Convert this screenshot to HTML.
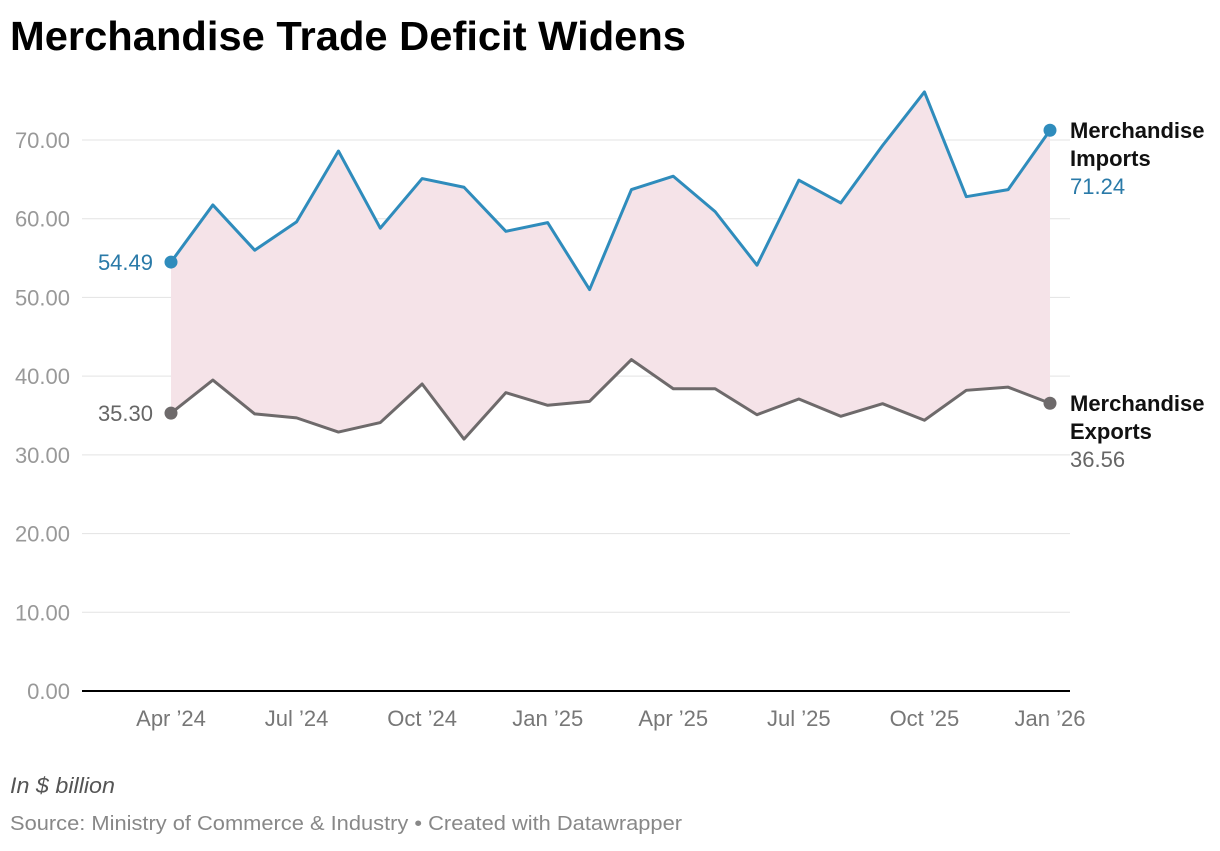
<!DOCTYPE html>
<html><head><meta charset="utf-8"><style>
body{margin:0;background:#fff;width:1220px;height:846px;overflow:hidden;font-family:"Liberation Sans",sans-serif}
</style></head><body>
<svg width="1220" height="846" font-family="Liberation Sans, sans-serif">
<text x="10" y="50" font-size="41" font-weight="bold" fill="#000" textLength="676" lengthAdjust="spacingAndGlyphs">Merchandise Trade Deficit Widens</text>
<g id="grid"></g><g id="area"></g><g id="lines"></g><g id="labels"></g>
<text x="10" y="793" font-size="22" font-style="italic" fill="#555" textLength="105" lengthAdjust="spacingAndGlyphs">In $ billion</text>
<text x="10" y="830" font-size="20" fill="#888" textLength="672" lengthAdjust="spacingAndGlyphs">Source: Ministry of Commerce &amp; Industry • Created with Datawrapper</text>
</svg>
<script>
const months=["Apr '24","May","Jun","Jul '24","Aug","Sep","Oct '24","Nov","Dec","Jan '25","Feb","Mar","Apr '25","May","Jun","Jul '25","Aug","Sep","Oct '25","Nov","Dec","Jan '26"];
const imports=[54.49,61.75,56.0,59.6,68.6,58.8,65.1,64.0,58.4,59.5,51.0,63.7,65.4,60.9,54.1,64.9,62.0,69.3,76.1,62.8,63.7,71.24];
const exportsV=[35.30,39.5,35.2,34.7,32.9,34.1,39.0,32.0,37.9,36.3,36.8,42.1,38.4,38.4,35.1,37.1,34.9,36.5,34.4,38.2,38.6,36.56];
const yTicks=[0,10,20,30,40,50,60,70];
const xTickIdx=[0,3,6,9,12,15,18,21];
const NS="http://www.w3.org/2000/svg";
const X=i=>171+i*(1050-171)/21, Y=v=>691-v*(691-140)/70;
function mk(t,a,p,txt){const e=document.createElementNS(NS,t);for(const k in a)e.setAttribute(k,a[k]);if(txt!=null)e.textContent=txt;p.appendChild(e);return e;}
const g=document.getElementById('grid');
yTicks.forEach(v=>{
 const l=mk('line',{x1:82,x2:1070,y1:Y(v),y2:Y(v),stroke:v===0?'#000':'#e3e3e3','stroke-width':v===0?2:1},g);
 
 
 const t=mk('text',{x:70,y:Y(v)+8,'text-anchor':'end','font-size':22,fill:'#999'},g,v.toFixed(2));
 
 
});
xTickIdx.forEach(i=>{
 const t=mk('text',{x:X(i),y:726,'text-anchor':'middle','font-size':22,fill:'#777'},g,months[i].replace("'","’"));
 
 
});
const a=document.getElementById('area');
let d='M'+imports.map((v,i)=>X(i)+','+Y(v)).join('L');
for(let i=exportsV.length-1;i>=0;i--)d+='L'+X(i)+','+Y(exportsV[i]);
const ar=mk('path',{d:d+'Z',fill:'#f5e3e8'},a);


const L=document.getElementById('lines');
[[imports,'#2f8cbc','imports'],[exportsV,'#6e6a6b','exports']].forEach(([s,c,n])=>{
 const p=mk('path',{d:'M'+s.map((v,i)=>X(i)+','+Y(v)).join('L'),fill:'none',stroke:c,'stroke-width':3,'stroke-linejoin':'round'},L);
 
 
 [0,s.length-1].forEach(i=>{
  const cc=mk('circle',{cx:X(i),cy:Y(s[i]),r:6.5,fill:c},L);
  
  
 });
});
const lb=document.getElementById('labels');
function lab(x,y,txt,fill,w,anchor,name){const t=mk('text',{x:x,y:y,'font-size':22,fill:fill,'font-weight':w,'text-anchor':anchor||'start'},lb,txt);}
lab(153,Y(imports[0])+8,imports[0].toFixed(2),'#2a7aa8','normal','end','imports-start-value');
lab(153,Y(exportsV[0])+8,exportsV[0].toFixed(2),'#666','normal','end','exports-start-value');
const ie=Y(imports[21]), ee=Y(exportsV[21]);
lab(1070,ie+8,'Merchandise','#111','bold','start','imports-label');
lab(1070,ie+36,'Imports','#111','bold','start','imports-label-2');
lab(1070,ie+64,imports[21].toFixed(2),'#2a7aa8','normal','start','imports-end-value');
lab(1070,ee+8,'Merchandise','#111','bold','start','exports-label');
lab(1070,ee+36,'Exports','#111','bold','start','exports-label-2');
lab(1070,ee+64,exportsV[21].toFixed(2),'#666','normal','start','exports-end-value');
</script>
</body></html>
